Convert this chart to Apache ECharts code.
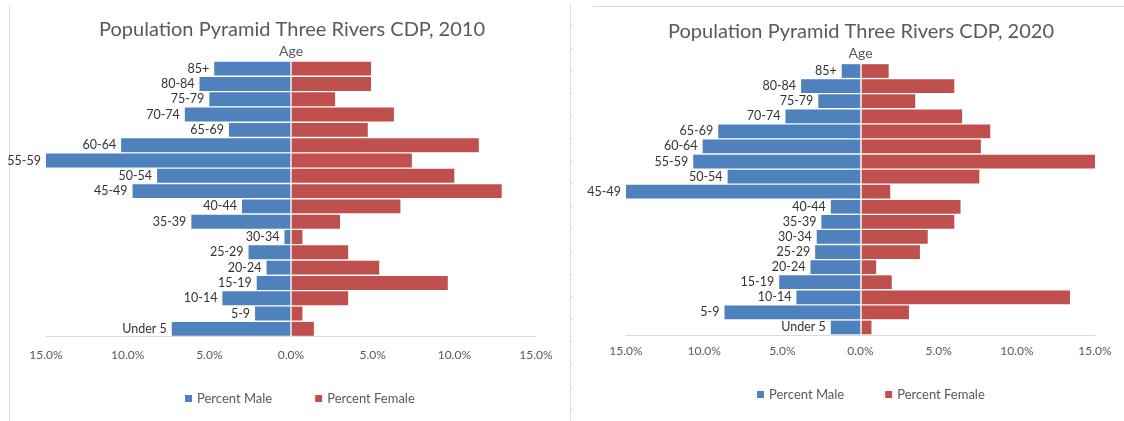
<!DOCTYPE html>
<html>
<head>
<meta charset="utf-8">
<title>Population Pyramid Three Rivers CDP</title>
<script src="https://cdn.jsdelivr.net/npm/echarts@6/dist/echarts.min.js"></script>
<style>
  html, body { margin: 0; padding: 0; background: #ffffff; }
  #chart { width: 1124px; height: 421px; }
</style>
</head>
<body>
<div id="chart"></div>
<script>
// Age groups, listed from the oldest (top row) to the youngest (bottom row)
const ageGroups = ['85+', '80-84', '75-79', '70-74', '65-69', '60-64', '55-59', '50-54', '45-49',
  '40-44', '35-39', '30-34', '25-29', '20-24', '15-19', '10-14', '5-9', 'Under 5'];

// Share of the population in each age group, percent
const male2010   = [4.7, 5.6, 5.0, 6.5, 3.8, 10.4, 15.0, 8.2, 9.7, 3.0, 6.1, 0.4, 2.6, 1.5, 2.1, 4.2, 2.2, 7.3];
const female2010 = [4.9, 4.9, 2.7, 6.3, 4.7, 11.5, 7.4, 10.0, 12.9, 6.7, 3.0, 0.7, 3.5, 5.4, 9.6, 3.5, 0.7, 1.4];
const male2020   = [1.2, 3.8, 2.7, 4.8, 9.1, 10.1, 10.7, 8.5, 15.0, 1.9, 2.5, 2.8, 2.9, 3.2, 5.2, 4.1, 8.7, 1.9];
const female2020 = [1.8, 6.0, 3.5, 6.5, 8.3, 7.7, 15.0, 7.6, 1.9, 6.4, 6.0, 4.3, 3.8, 1.0, 2.0, 13.4, 3.1, 0.7];

const titles = ['Population Pyramid Three Rivers CDP, 2010', 'Population Pyramid Three Rivers CDP, 2020'];
const seriesNames = ['Percent Male', 'Percent Female'];
const axisTicks = { min: -15, max: 15, interval: 5 };

const FONT = 'Lato, "Open Sans", sans-serif';
const GREY = '#595959';
const MALE = '#4f81bd';
const FEMALE = '#c0504d';

// Pixel layout of the two panels
const panels = [
  { grid: { left: 46, right: 588, top: 61, height: 275.5 }, center: 287, titleTop: 15, labelMargin: 13, legendLeft: 180, legendTop: 387, legendGap: 43 },
  { grid: { left: 626, right: 29, top: 63.5, height: 271.5 }, center: 856, titleTop: 17, labelMargin: 10, legendLeft: 752, legendTop: 383, legendGap: 41 }
];
const data = [[male2010, female2010], [male2020, female2020]];

const option = {
  backgroundColor: '#ffffff',
  animation: false,
  textStyle: { fontFamily: FONT },
  title: panels.map((p, i) => ({
    text: titles[i],
    left: p.center,
    top: p.titleTop,
    textAlign: 'center',
    textStyle: { fontFamily: FONT, fontSize: 20, fontWeight: 'normal', color: GREY }
  })),
  legend: panels.map(p => ({
    data: seriesNames,
    left: p.legendLeft,
    top: p.legendTop,
    icon: 'rect',
    itemWidth: 7,
    itemHeight: 7,
    itemGap: p.legendGap,
    textStyle: { fontFamily: FONT, fontSize: 13, color: GREY }
  })),
  grid: panels.map(p => Object.assign({ containLabel: false }, p.grid)),
  xAxis: panels.map((p, i) => ({
    type: 'value',
    gridIndex: i,
    min: axisTicks.min,
    max: axisTicks.max,
    interval: axisTicks.interval,
    splitLine: { show: false },
    axisTick: { show: false },
    axisLine: { show: true, lineStyle: { color: '#d9d9d9', width: 1 } },
    axisLabel: {
      color: GREY, fontFamily: FONT, fontSize: 12, margin: p.labelMargin,
      formatter: v => Math.abs(v).toFixed(1) + '%'
    }
  })),
  yAxis: panels.map((p, i) => ({
    type: 'category',
    gridIndex: i,
    inverse: true,
    data: ageGroups,
    z: 10,
    name: 'Age',
    // the axis is inverted, so its start sits at the top of the grid
    nameLocation: 'start',
    nameGap: 3,
    nameTextStyle: { color: GREY, fontFamily: FONT, fontSize: 14 },
    axisTick: { show: false },
    axisLabel: { show: false },
    axisLine: { show: true, onZero: true, lineStyle: { color: '#f2f2f2', width: 1.5 } }
  })),
  series: [],
  graphic: []
};

panels.forEach((p, i) => {
  option.series.push({
    name: seriesNames[0],
    type: 'bar',
    stack: 'pyramid' + i,
    xAxisIndex: i,
    yAxisIndex: i,
    barCategoryGap: '9%',
    itemStyle: { color: MALE },
    label: {
      show: true,
      position: 'left',
      distance: 5,
      formatter: '{b}',
      color: '#333333',
      fontFamily: FONT,
      fontSize: 12.5
    },
    data: data[i][0].map(v => -v)
  });
  option.series.push({
    name: seriesNames[1],
    type: 'bar',
    stack: 'pyramid' + i,
    xAxisIndex: i,
    yAxisIndex: i,
    barCategoryGap: '9%',
    itemStyle: { color: FEMALE },
    data: data[i][1]
  });
});

// Sheet edges around the two pasted charts
const edge = { stroke: '#dcdcdc', lineWidth: 1 };
option.graphic.push({ type: 'line', shape: { x1: 9.5, y1: 5, x2: 9.5, y2: 421 }, style: edge, silent: true });
option.graphic.push({ type: 'line', shape: { x1: 570.5, y1: 5, x2: 570.5, y2: 421 }, style: edge, silent: true });
option.graphic.push({ type: 'line', shape: { x1: 593, y1: 6.5, x2: 1124, y2: 6.5 }, style: edge, silent: true });
for (let y = 25; y < 421; y += 22.6) {
  option.graphic.push({
    type: 'line',
    shape: { x1: 570.5, y1: Math.round(y) + 0.5, x2: 573.5, y2: Math.round(y) + 0.5 },
    style: { stroke: '#e4e4e4', lineWidth: 1 },
    silent: true
  });
}

const chart = echarts.init(document.getElementById('chart'), null, { renderer: 'canvas' });
chart.setOption(option);
</script>
</body>
</html>
